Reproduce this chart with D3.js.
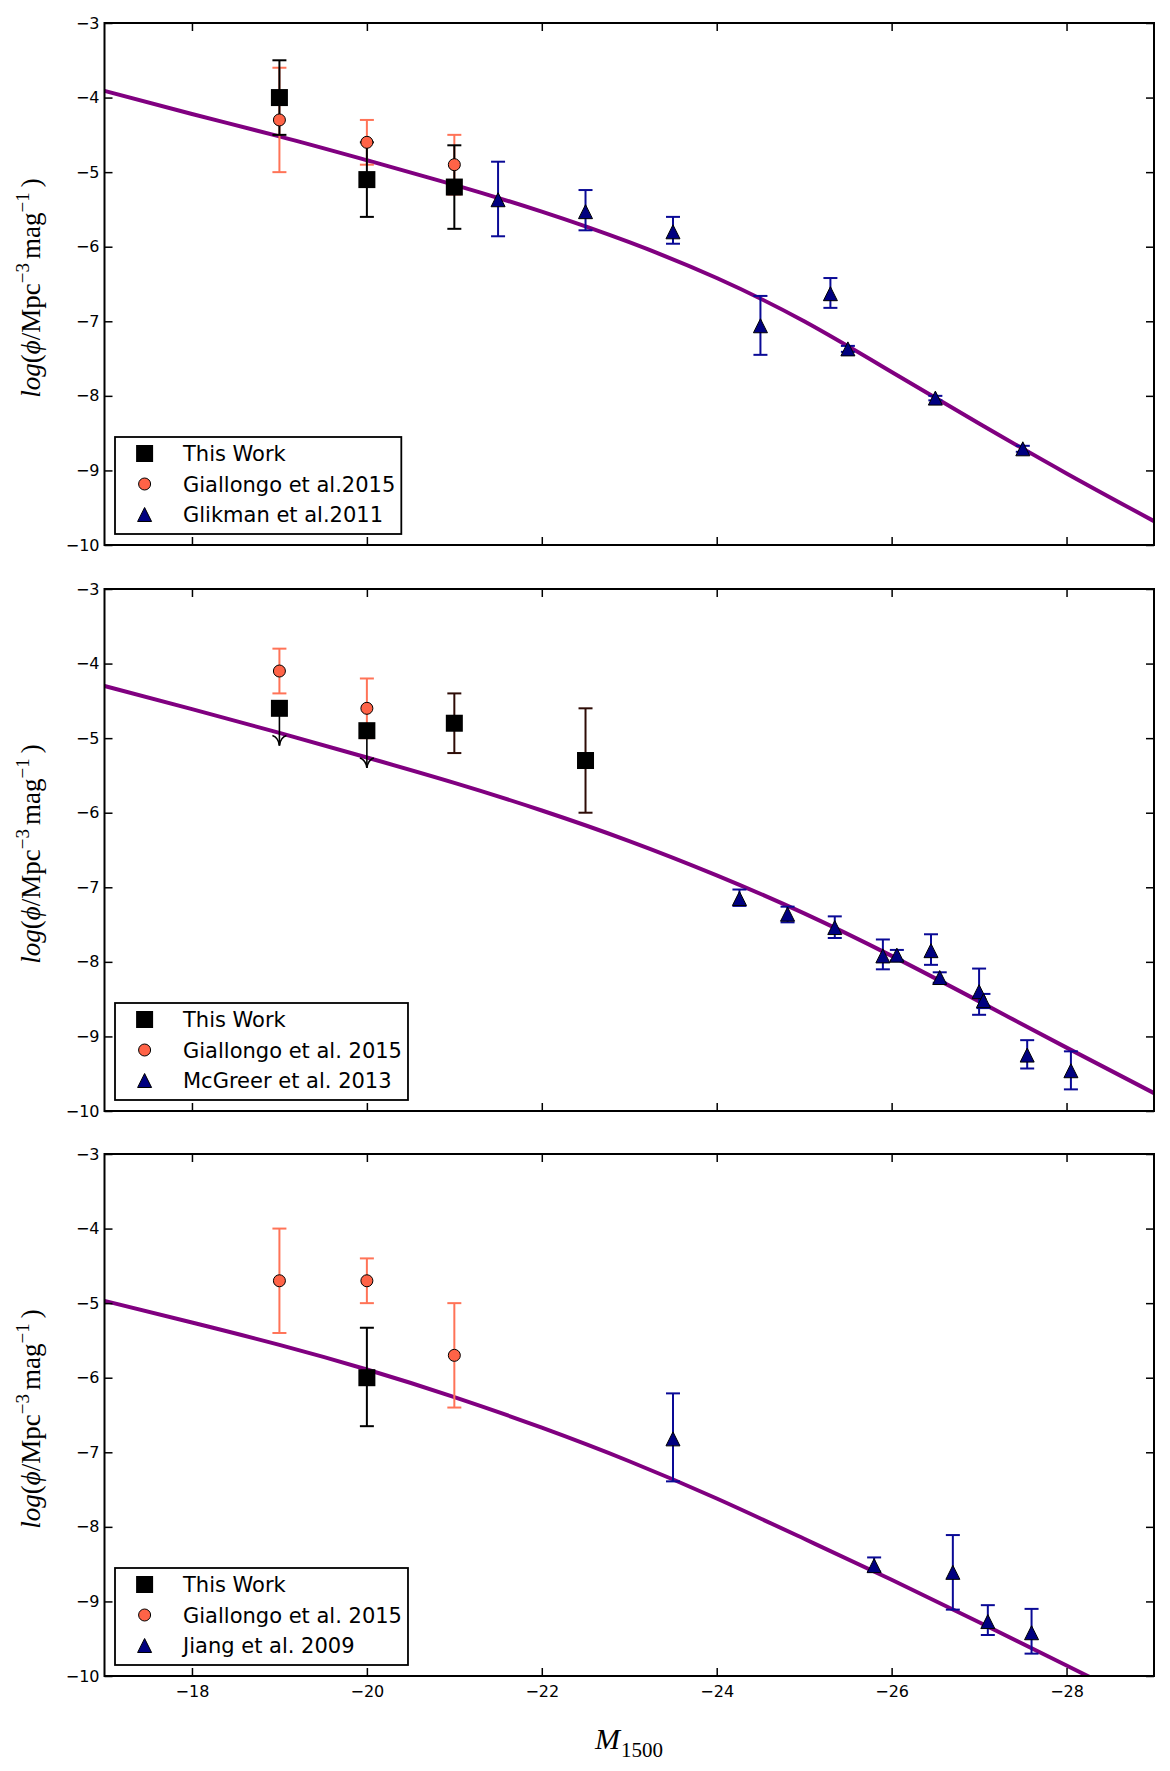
<!DOCTYPE html>
<html>
<head>
<meta charset="utf-8">
<script src="https://cdn.jsdelivr.net/npm/d3@7"></script>
<style>
  html, body { margin: 0; padding: 0; background: #fff; }
  svg { display: block; }
</style>
</head>
<body>
<div id="chart"></div>
<script>
// ---------------- DATA ----------------
const xTicks = [-18, -20, -22, -24, -26, -28];
const yTicks = [-3, -4, -5, -6, -7, -8, -9, -10];

// [M1500, log phi, error down, error up]
const thisWork1 = [[-19, -4.0, 0.5, 0.5], [-20, -5.1, 0.5, 0.5], [-21, -5.2, 0.56, 0.56]];
const giallongo1 = [[-19, -4.3, 0.7, 0.7], [-20, -4.6, 0.3, 0.3], [-21, -4.9, 0.4, 0.4]];
const glikman1 = [[-21.5, -5.37, 0.49, 0.51], [-22.5, -5.53, 0.25, 0.29], [-23.5, -5.8, 0.16, 0.2],
  [-24.5, -7.06, 0.39, 0.4], [-25.3, -6.63, 0.19, 0.21], [-25.5, -7.37, 0.04, 0.04],
  [-26.5, -8.03, 0.03, 0.03], [-27.5, -8.71, 0.04, 0.04]];
const fit1 = [[-17, -3.91], [-18, -4.22], [-19, -4.52], [-20, -4.84], [-21, -5.17], [-22, -5.53],
  [-23, -5.94], [-24, -6.42], [-25, -7.00], [-26, -7.68], [-27, -8.37], [-28, -9.04], [-29, -9.68]];

const thisWork2 = [[-21, -4.8, 0.4, 0.4], [-22.5, -5.3, 0.7, 0.7]];
const upperLimits2 = [[-19, -4.6, 0.5], [-20, -4.9, 0.5]];   // [M, value, arrow length]
const giallongo2 = [[-19, -4.1, 0.3, 0.3], [-20, -4.6, 0.4, 0.4]];
const mcgreer2 = [[-24.26, -7.15, 0.1, 0.12], [-24.81, -7.36, 0.11, 0.1], [-25.35, -7.54, 0.14, 0.15],
  [-25.9, -7.92, 0.18, 0.22], [-26.06, -7.91, 0.07, 0.07], [-26.45, -7.85, 0.19, 0.22],
  [-26.55, -8.21, 0.07, 0.07], [-27.0, -8.40, 0.31, 0.31], [-27.05, -8.52, 0.1, 0.09],
  [-27.55, -9.25, 0.18, 0.2], [-28.05, -9.46, 0.25, 0.26]];
const fit2 = [[-17, -4.30], [-18, -4.61], [-19, -4.93], [-20, -5.26], [-21, -5.60], [-22, -5.97],
  [-23, -6.38], [-24, -6.84], [-25, -7.35], [-26, -7.92], [-27, -8.53], [-28, -9.15], [-29, -9.76]];

const thisWork3 = [[-20, -6.0, 0.65, 0.67]];
const giallongo3 = [[-19, -4.7, 0.7, 0.7], [-20, -4.7, 0.3, 0.3], [-21, -5.7, 0.7, 0.7]];
const jiang3 = [[-23.5, -6.82, 0.57, 0.61], [-25.8, -8.52, 0.08, 0.11], [-26.7, -8.61, 0.5, 0.5],
  [-27.1, -9.27, 0.18, 0.22], [-27.6, -9.42, 0.28, 0.32]];
const fit3 = [[-17, -4.97], [-18, -5.26], [-19, -5.56], [-20, -5.89], [-21, -6.26], [-22, -6.67],
  [-23, -7.12], [-24, -7.62], [-25, -8.16], [-26, -8.71], [-27, -9.28], [-28, -9.86], [-29, -10.44]];

const legendLabels1 = ["This Work", "Giallongo et al.2015", "Glikman et al.2011"];
const legendLabels2 = ["This Work", "Giallongo et al. 2015", "McGreer et al. 2013"];
const legendLabels3 = ["This Work", "Giallongo et al. 2015", "Jiang et al. 2009"];

// ---------------- LAYOUT ----------------
const W = 1170, H = 1771;
const left = 104.5, right = 1154;
const panelTops = [23, 589, 1154];
const panelH = 522;

const COL_PURPLE = "#800080";
const COL_TOMATO = "#ff6347";
const COL_TOMATO_BAR = "#ff7357";
const COL_NAVY = "#000080";
const COL_NAVY_BAR = "#0a0a96";
const COL_BROWN_BAR = "#2e0c06";

const svg = d3.select("#chart").append("svg").attr("width", W).attr("height", H)
  .style("background", "#fff");
svg.append("rect").attr("width", W).attr("height", H).attr("fill", "#fff");

const x = d3.scaleLinear().domain([-17, -29]).range([left, right]);

const panels = [
  { fit: fit1, thisWork: thisWork1, limits: [], gial: giallongo1, other: glikman1, labels: legendLabels1, twBar: "#000" },
  { fit: fit2, thisWork: thisWork2, limits: upperLimits2, gial: giallongo2, other: mcgreer2, labels: legendLabels2, twBar: COL_BROWN_BAR },
  { fit: fit3, thisWork: thisWork3, limits: [], gial: giallongo3, other: jiang3, labels: legendLabels3, twBar: "#000" }
];

const CAP = 7;

function errorBars(g, data, y, color, width) {
  const gg = g.append("g").attr("stroke", color).attr("stroke-width", width).attr("fill", "none");
  data.forEach(d => {
    const cx = x(d[0]);
    const y0 = y(d[1] - d[2]), y1 = y(d[1] + d[3]);
    gg.append("line").attr("x1", cx).attr("x2", cx).attr("y1", y0).attr("y2", y1);
    gg.append("line").attr("x1", cx - CAP).attr("x2", cx + CAP).attr("y1", y0).attr("y2", y0);
    gg.append("line").attr("x1", cx - CAP).attr("x2", cx + CAP).attr("y1", y1).attr("y2", y1);
  });
}
function squares(g, data, y, s) {
  g.append("g").selectAll("rect").data(data).join("rect")
    .attr("x", d => x(d[0]) - s / 2).attr("y", d => y(d[1]) - s / 2)
    .attr("width", s).attr("height", s).attr("fill", "#000");
}
function circles(g, data, y, r) {
  g.append("g").selectAll("circle").data(data).join("circle")
    .attr("cx", d => x(d[0])).attr("cy", d => y(d[1])).attr("r", r)
    .attr("fill", COL_TOMATO).attr("stroke", "#000").attr("stroke-width", 1);
}
function triPath(cx, cy, s) {
  const h = s / 2;
  return `M${cx},${cy - h}L${cx + h},${cy + h}L${cx - h},${cy + h}Z`;
}
function triangles(g, data, y, s) {
  g.append("g").selectAll("path").data(data).join("path")
    .attr("d", d => triPath(x(d[0]), y(d[1]), s))
    .attr("fill", COL_NAVY).attr("stroke", "#000").attr("stroke-width", 1);
}
function styleAxis(sel) {
  sel.attr("font-family", "DejaVu Sans").attr("font-size", 16);
  sel.select(".domain").remove();
  sel.selectAll(".tick line").attr("stroke", "#000").attr("stroke-width", 1.5);
  sel.selectAll(".tick text").attr("fill", "#000");
}

panels.forEach((p, i) => {
  const top = panelTops[i], bottom = top + panelH;
  const y = d3.scaleLinear().domain([-3, -10]).range([top, bottom]);
  const g = svg.append("g");

  const clipId = "clip" + i;
  svg.append("clipPath").attr("id", clipId).append("rect")
    .attr("x", left).attr("y", top).attr("width", right - left).attr("height", panelH);

  // fit curve
  const line = d3.line().x(d => x(d[0])).y(d => y(d[1])).curve(d3.curveNatural);
  g.append("path").datum(p.fit).attr("d", line).attr("fill", "none")
    .attr("stroke", COL_PURPLE).attr("stroke-width", 4).attr("clip-path", `url(#${clipId})`);

  // error bars
  errorBars(g, p.gial, y, COL_TOMATO_BAR, 2);
  errorBars(g, p.thisWork, y, p.twBar, 2);
  // upper limits
  const lg = g.append("g").attr("stroke", "#000").attr("stroke-width", 1.6).attr("fill", "none");
  p.limits.forEach(d => {
    const cx = x(d[0]), y0 = y(d[1]), yt = y(d[1] - d[2]);
    lg.append("line").attr("x1", cx).attr("x2", cx).attr("y1", y0).attr("y2", yt);
    lg.append("path").attr("d", `M${cx - 7},${yt - 10}Q${cx - 1},${yt - 8} ${cx},${yt}Q${cx + 1},${yt - 8} ${cx + 7},${yt - 10}`);
  });
  squares(g, p.thisWork.concat(p.limits), y, 17);
  circles(g, p.gial, y, 6);
  errorBars(g, p.other, y, COL_NAVY_BAR, 2);
  triangles(g, p.other, y, 14);

  // axes (inward ticks on all sides)
  const bottomAxis = d3.axisBottom(x).tickValues(xTicks).tickSizeInner(-8).tickSizeOuter(0).tickPadding(10);
  if (i < 2) bottomAxis.tickFormat("");
  else bottomAxis.tickFormat(d3.format("d"));
  svg.append("g").attr("transform", `translate(0,${bottom})`).call(bottomAxis).call(styleAxis);
  svg.append("g").attr("transform", `translate(0,${top})`)
    .call(d3.axisTop(x).tickValues(xTicks).tickSizeInner(-8).tickSizeOuter(0).tickFormat(""))
    .call(styleAxis);
  svg.append("g").attr("transform", `translate(${left},0)`)
    .call(d3.axisLeft(y).tickValues(yTicks).tickSizeInner(-8).tickSizeOuter(0).tickPadding(5).tickFormat(d3.format("d")))
    .call(styleAxis);
  svg.append("g").attr("transform", `translate(${right},0)`)
    .call(d3.axisRight(y).tickValues(yTicks).tickSizeInner(-8).tickSizeOuter(0).tickFormat(""))
    .call(styleAxis);

  // frame
  svg.append("rect").attr("x", left).attr("y", top).attr("width", right - left).attr("height", panelH)
    .attr("fill", "none").attr("stroke", "#000").attr("stroke-width", 2);

  // y label
  const yl = svg.append("text")
    .attr("transform", `translate(40,${top + panelH / 2 + 4}) rotate(-90)`)
    .attr("text-anchor", "middle").attr("font-family", "Liberation Serif").attr("font-size", 27).attr("fill", "#000");
  yl.append("tspan").attr("font-style", "italic").text("log");
  yl.append("tspan").text("(");
  yl.append("tspan").attr("font-style", "italic").text("ϕ");
  yl.append("tspan").text("/Mpc");
  yl.append("tspan").attr("font-size", 19).attr("dy", -11).text("−3");
  yl.append("tspan").attr("dy", 11).attr("dx", 4).text("mag");
  yl.append("tspan").attr("font-size", 19).attr("dy", -11).text("−1");
  yl.append("tspan").attr("dy", 11).attr("dx", 5).text(")");

  // legend
  const lgTop = top + 414;
  const rows = [top + 430.5, top + 461, top + 491.5];
  const leg = svg.append("g");
  const box = leg.append("rect").attr("x", 115).attr("y", lgTop).attr("height", 97)
    .attr("fill", "#fff").attr("stroke", "#000").attr("stroke-width", 1.8);
  const mx = 144.6;
  leg.append("rect").attr("x", mx - 8.5).attr("y", rows[0] - 8.5).attr("width", 17).attr("height", 17).attr("fill", "#000");
  leg.append("circle").attr("cx", mx).attr("cy", rows[1]).attr("r", 6).attr("fill", COL_TOMATO).attr("stroke", "#000");
  leg.append("path").attr("d", triPath(mx, rows[2], 14)).attr("fill", COL_NAVY).attr("stroke", "#000");
  let maxW = 0;
  p.labels.forEach((t, k) => {
    const tx = leg.append("text").attr("x", 183).attr("y", rows[k]).attr("dy", "0.36em")
      .attr("font-family", "DejaVu Sans").attr("font-size", 21).attr("fill", "#000").text(t);
    maxW = Math.max(maxW, tx.node().getComputedTextLength());
  });
  box.attr("width", 183 + maxW + 6 - 115);
});

// x label
const xl = svg.append("text").attr("x", 595).attr("y", 1749)
  .attr("font-family", "Liberation Serif").attr("font-size", 30).attr("fill", "#000");
xl.append("tspan").attr("font-style", "italic").text("M");
xl.append("tspan").attr("font-size", 21).attr("dy", 8).attr("dx", 1).text("1500");
</script>
</body>
</html>
